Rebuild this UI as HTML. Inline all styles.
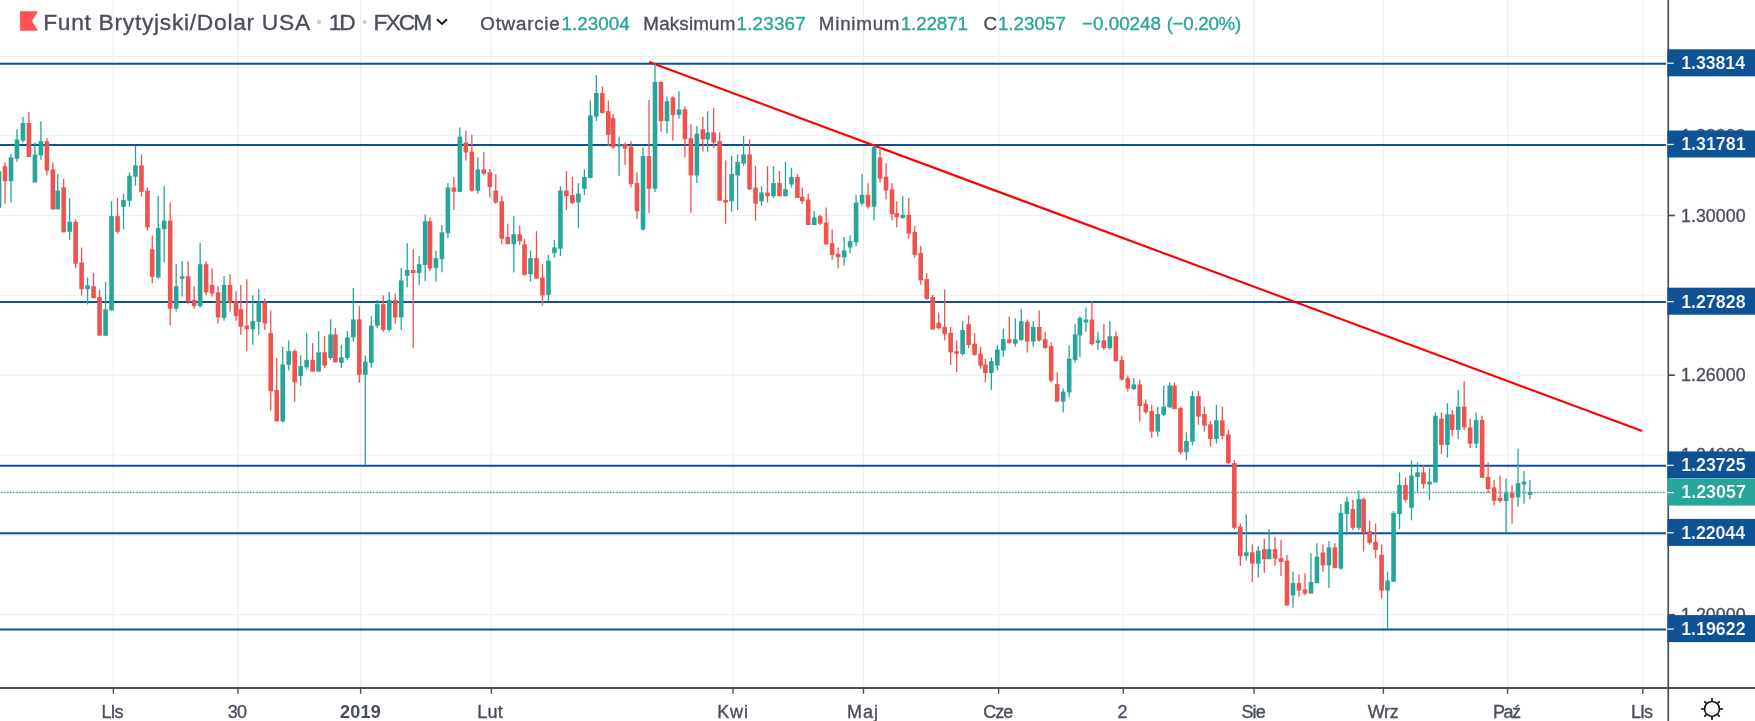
<!DOCTYPE html>
<html><head><meta charset="utf-8"><title>GBPUSD</title>
<style>
html,body{margin:0;padding:0;background:#fff;}
body{width:1755px;height:721px;position:relative;overflow:hidden;font-family:"Liberation Sans",sans-serif;}
svg text{white-space:pre;}
</style></head><body>
<svg width="1755" height="721" viewBox="0 0 1755 721" font-family="Liberation Sans, sans-serif" style="position:absolute;left:0;top:0;will-change:transform">
<g>
<g stroke="#eaf0f5" stroke-width="1.2">
<line x1="113.4" y1="0" x2="113.4" y2="687"/>
<line x1="237.9" y1="0" x2="237.9" y2="687"/>
<line x1="360.6" y1="0" x2="360.6" y2="687"/>
<line x1="491.4" y1="0" x2="491.4" y2="687"/>
<line x1="733.0" y1="0" x2="733.0" y2="687"/>
<line x1="863.5" y1="0" x2="863.5" y2="687"/>
<line x1="998.6" y1="0" x2="998.6" y2="687"/>
<line x1="1123.3" y1="0" x2="1123.3" y2="687"/>
<line x1="1254.1" y1="0" x2="1254.1" y2="687"/>
<line x1="1383.4" y1="0" x2="1383.4" y2="687"/>
<line x1="1507.6" y1="0" x2="1507.6" y2="687"/>
<line x1="1642.8" y1="0" x2="1642.8" y2="687"/>
<line x1="0" y1="614.7" x2="1666" y2="614.7"/>
<line x1="0" y1="534.8" x2="1666" y2="534.8"/>
<line x1="0" y1="455.0" x2="1666" y2="455.0"/>
<line x1="0" y1="375.1" x2="1666" y2="375.1"/>
<line x1="0" y1="295.3" x2="1666" y2="295.3"/>
<line x1="0" y1="215.4" x2="1666" y2="215.4"/>
<line x1="0" y1="135.5" x2="1666" y2="135.5"/>
<line x1="0" y1="56.4" x2="1666" y2="56.4"/>
</g>
<g stroke="#0e5296" stroke-width="2">
<line x1="0" y1="63.7" x2="1666" y2="63.7"/>
<line x1="0" y1="144.9" x2="1666" y2="144.9"/>
<line x1="0" y1="302.1" x2="1666" y2="302.1"/>
<line x1="0" y1="465.8" x2="1666" y2="465.8"/>
<line x1="0" y1="533.3" x2="1666" y2="533.3"/>
<line x1="0" y1="629.5" x2="1666" y2="629.5"/>
</g>
<line x1="-2" y1="492.5" x2="1665.4" y2="492.5" stroke="#26a69a" stroke-width="1.35" stroke-dasharray="1.75 1.25" stroke-opacity="0.9"/>
<line x1="649.1" y1="61.9" x2="1642.2" y2="431" stroke="#ff0000" stroke-width="2.15"/>
</g>
<g>
<rect x="-1.64" y="171.2" width="1.30" height="36.7" fill="#26a69a"/>
<rect x="-3.29" y="171.2" width="4.60" height="36.7" fill="#26a69a"/>
<rect x="4.35" y="162.4" width="1.30" height="41.2" fill="#ef5350"/>
<rect x="2.70" y="166.2" width="4.60" height="15.0" fill="#ef5350"/>
<rect x="10.33" y="154.2" width="1.30" height="48.2" fill="#26a69a"/>
<rect x="8.68" y="157.4" width="4.60" height="23.7" fill="#26a69a"/>
<rect x="16.32" y="129.2" width="1.30" height="32.5" fill="#26a69a"/>
<rect x="14.67" y="139.5" width="4.60" height="19.2" fill="#26a69a"/>
<rect x="22.30" y="117.0" width="1.30" height="25.5" fill="#26a69a"/>
<rect x="20.65" y="123.0" width="4.60" height="17.7" fill="#26a69a"/>
<rect x="28.29" y="112.0" width="1.30" height="44.9" fill="#ef5350"/>
<rect x="26.64" y="123.0" width="4.60" height="34.0" fill="#ef5350"/>
<rect x="34.27" y="142.4" width="1.30" height="40.0" fill="#26a69a"/>
<rect x="32.62" y="154.4" width="4.60" height="28.0" fill="#26a69a"/>
<rect x="40.26" y="121.2" width="1.30" height="38.7" fill="#26a69a"/>
<rect x="38.61" y="141.2" width="4.60" height="14.2" fill="#26a69a"/>
<rect x="46.24" y="138.2" width="1.30" height="37.2" fill="#ef5350"/>
<rect x="44.59" y="141.2" width="4.60" height="29.5" fill="#ef5350"/>
<rect x="52.23" y="162.4" width="1.30" height="46.9" fill="#ef5350"/>
<rect x="50.58" y="169.4" width="4.60" height="40.0" fill="#ef5350"/>
<rect x="57.02" y="174.2" width="1.30" height="35.2" fill="#26a69a"/>
<rect x="55.37" y="190.6" width="4.60" height="18.7" fill="#26a69a"/>
<rect x="63.00" y="178.7" width="1.30" height="53.7" fill="#ef5350"/>
<rect x="61.35" y="187.4" width="4.60" height="44.9" fill="#ef5350"/>
<rect x="68.99" y="198.1" width="1.30" height="41.7" fill="#26a69a"/>
<rect x="67.34" y="221.8" width="4.60" height="10.0" fill="#26a69a"/>
<rect x="74.97" y="219.4" width="1.30" height="48.9" fill="#ef5350"/>
<rect x="73.33" y="221.8" width="4.60" height="41.9" fill="#ef5350"/>
<rect x="80.96" y="247.5" width="1.30" height="47.9" fill="#ef5350"/>
<rect x="79.31" y="262.5" width="4.60" height="26.7" fill="#ef5350"/>
<rect x="86.94" y="277.5" width="1.30" height="27.0" fill="#26a69a"/>
<rect x="85.30" y="285.4" width="4.60" height="3.7" fill="#26a69a"/>
<rect x="92.93" y="273.0" width="1.30" height="25.2" fill="#ef5350"/>
<rect x="91.28" y="286.2" width="4.60" height="12.0" fill="#ef5350"/>
<rect x="98.91" y="289.4" width="1.30" height="46.2" fill="#ef5350"/>
<rect x="97.27" y="296.9" width="4.60" height="38.7" fill="#ef5350"/>
<rect x="104.90" y="281.9" width="1.30" height="53.7" fill="#26a69a"/>
<rect x="103.25" y="309.2" width="4.60" height="26.5" fill="#26a69a"/>
<rect x="110.88" y="201.1" width="1.30" height="109.3" fill="#26a69a"/>
<rect x="109.23" y="216.1" width="4.60" height="94.3" fill="#26a69a"/>
<rect x="116.87" y="198.1" width="1.30" height="35.5" fill="#ef5350"/>
<rect x="115.22" y="216.1" width="4.60" height="15.7" fill="#ef5350"/>
<rect x="122.85" y="193.6" width="1.30" height="35.7" fill="#26a69a"/>
<rect x="121.20" y="199.9" width="4.60" height="7.0" fill="#26a69a"/>
<rect x="128.84" y="172.4" width="1.30" height="34.2" fill="#26a69a"/>
<rect x="127.19" y="175.7" width="4.60" height="25.0" fill="#26a69a"/>
<rect x="134.83" y="145.7" width="1.30" height="40.0" fill="#26a69a"/>
<rect x="133.18" y="165.4" width="4.60" height="11.2" fill="#26a69a"/>
<rect x="140.81" y="154.4" width="1.30" height="42.2" fill="#ef5350"/>
<rect x="139.16" y="165.4" width="4.60" height="26.5" fill="#ef5350"/>
<rect x="146.80" y="187.4" width="1.30" height="43.2" fill="#ef5350"/>
<rect x="145.15" y="190.6" width="4.60" height="36.7" fill="#ef5350"/>
<rect x="151.59" y="235.6" width="1.30" height="47.6" fill="#ef5350"/>
<rect x="149.94" y="249.2" width="4.60" height="27.7" fill="#ef5350"/>
<rect x="157.57" y="196.1" width="1.30" height="82.6" fill="#26a69a"/>
<rect x="155.92" y="228.1" width="4.60" height="49.4" fill="#26a69a"/>
<rect x="163.56" y="186.1" width="1.30" height="76.3" fill="#26a69a"/>
<rect x="161.91" y="220.6" width="4.60" height="8.7" fill="#26a69a"/>
<rect x="169.54" y="202.4" width="1.30" height="123.0" fill="#ef5350"/>
<rect x="167.89" y="220.6" width="4.60" height="88.1" fill="#ef5350"/>
<rect x="175.53" y="264.2" width="1.30" height="47.4" fill="#26a69a"/>
<rect x="173.88" y="286.2" width="4.60" height="22.5" fill="#26a69a"/>
<rect x="181.51" y="261.2" width="1.30" height="35.5" fill="#26a69a"/>
<rect x="179.86" y="276.2" width="4.60" height="2.5" fill="#26a69a"/>
<rect x="187.50" y="261.2" width="1.30" height="43.2" fill="#ef5350"/>
<rect x="185.85" y="276.2" width="4.60" height="25.5" fill="#ef5350"/>
<rect x="193.48" y="286.2" width="1.30" height="22.5" fill="#ef5350"/>
<rect x="191.83" y="299.9" width="4.60" height="6.2" fill="#ef5350"/>
<rect x="199.47" y="243.2" width="1.30" height="64.2" fill="#26a69a"/>
<rect x="197.82" y="264.2" width="4.60" height="41.9" fill="#26a69a"/>
<rect x="205.45" y="261.2" width="1.30" height="34.2" fill="#ef5350"/>
<rect x="203.80" y="264.2" width="4.60" height="28.2" fill="#ef5350"/>
<rect x="211.44" y="268.2" width="1.30" height="28.5" fill="#ef5350"/>
<rect x="209.79" y="284.9" width="4.60" height="8.7" fill="#ef5350"/>
<rect x="217.42" y="286.2" width="1.30" height="37.5" fill="#ef5350"/>
<rect x="215.77" y="292.4" width="4.60" height="25.0" fill="#ef5350"/>
<rect x="223.41" y="276.2" width="1.30" height="44.4" fill="#26a69a"/>
<rect x="221.76" y="284.9" width="4.60" height="33.0" fill="#26a69a"/>
<rect x="229.39" y="274.2" width="1.30" height="37.5" fill="#ef5350"/>
<rect x="227.74" y="284.9" width="4.60" height="17.8" fill="#ef5350"/>
<rect x="235.38" y="291.2" width="1.30" height="29.5" fill="#ef5350"/>
<rect x="233.73" y="301.2" width="4.60" height="15.0" fill="#ef5350"/>
<rect x="240.17" y="284.9" width="1.30" height="49.9" fill="#ef5350"/>
<rect x="238.52" y="309.2" width="4.60" height="17.5" fill="#ef5350"/>
<rect x="246.15" y="279.2" width="1.30" height="71.4" fill="#ef5350"/>
<rect x="244.50" y="325.6" width="4.60" height="3.7" fill="#ef5350"/>
<rect x="252.14" y="295.4" width="1.30" height="49.4" fill="#26a69a"/>
<rect x="250.49" y="321.1" width="4.60" height="8.2" fill="#26a69a"/>
<rect x="258.12" y="289.2" width="1.30" height="45.2" fill="#26a69a"/>
<rect x="256.47" y="302.4" width="4.60" height="19.5" fill="#26a69a"/>
<rect x="264.11" y="298.2" width="1.30" height="31.7" fill="#ef5350"/>
<rect x="262.46" y="302.4" width="4.60" height="21.2" fill="#ef5350"/>
<rect x="270.09" y="310.4" width="1.30" height="100.3" fill="#ef5350"/>
<rect x="268.44" y="333.1" width="4.60" height="58.1" fill="#ef5350"/>
<rect x="276.08" y="358.1" width="1.30" height="63.3" fill="#ef5350"/>
<rect x="274.43" y="390.0" width="4.60" height="31.3" fill="#ef5350"/>
<rect x="282.06" y="346.6" width="1.30" height="76.0" fill="#26a69a"/>
<rect x="280.41" y="364.3" width="4.60" height="57.0" fill="#26a69a"/>
<rect x="288.05" y="340.4" width="1.30" height="30.0" fill="#26a69a"/>
<rect x="286.40" y="351.1" width="4.60" height="13.7" fill="#26a69a"/>
<rect x="294.03" y="349.1" width="1.30" height="52.6" fill="#ef5350"/>
<rect x="292.38" y="351.1" width="4.60" height="31.2" fill="#ef5350"/>
<rect x="300.02" y="355.4" width="1.30" height="30.2" fill="#26a69a"/>
<rect x="298.37" y="366.1" width="4.60" height="10.0" fill="#26a69a"/>
<rect x="306.00" y="333.1" width="1.30" height="36.7" fill="#26a69a"/>
<rect x="304.35" y="359.9" width="4.60" height="7.5" fill="#26a69a"/>
<rect x="311.99" y="343.1" width="1.30" height="28.5" fill="#ef5350"/>
<rect x="310.34" y="359.9" width="4.60" height="11.7" fill="#ef5350"/>
<rect x="317.97" y="331.1" width="1.30" height="40.4" fill="#26a69a"/>
<rect x="316.32" y="352.4" width="4.60" height="19.2" fill="#26a69a"/>
<rect x="323.96" y="336.1" width="1.30" height="31.7" fill="#ef5350"/>
<rect x="322.31" y="352.4" width="4.60" height="13.2" fill="#ef5350"/>
<rect x="329.94" y="319.4" width="1.30" height="40.4" fill="#26a69a"/>
<rect x="328.29" y="334.4" width="4.60" height="23.7" fill="#26a69a"/>
<rect x="334.73" y="328.1" width="1.30" height="34.2" fill="#ef5350"/>
<rect x="333.08" y="334.4" width="4.60" height="28.0" fill="#ef5350"/>
<rect x="340.72" y="344.9" width="1.30" height="23.0" fill="#26a69a"/>
<rect x="339.07" y="357.4" width="4.60" height="5.5" fill="#26a69a"/>
<rect x="346.70" y="331.1" width="1.30" height="28.7" fill="#26a69a"/>
<rect x="345.05" y="337.4" width="4.60" height="20.7" fill="#26a69a"/>
<rect x="352.69" y="287.9" width="1.30" height="53.9" fill="#26a69a"/>
<rect x="351.04" y="319.4" width="4.60" height="18.0" fill="#26a69a"/>
<rect x="358.67" y="306.2" width="1.30" height="76.7" fill="#ef5350"/>
<rect x="357.02" y="319.4" width="4.60" height="55.4" fill="#ef5350"/>
<rect x="364.66" y="355.4" width="1.30" height="109.9" fill="#26a69a"/>
<rect x="363.01" y="361.6" width="4.60" height="13.2" fill="#26a69a"/>
<rect x="370.64" y="316.2" width="1.30" height="51.2" fill="#26a69a"/>
<rect x="368.99" y="325.6" width="4.60" height="37.2" fill="#26a69a"/>
<rect x="376.63" y="299.9" width="1.30" height="28.2" fill="#26a69a"/>
<rect x="374.98" y="304.2" width="4.60" height="21.5" fill="#26a69a"/>
<rect x="382.61" y="295.4" width="1.30" height="36.2" fill="#ef5350"/>
<rect x="380.96" y="304.2" width="4.60" height="25.7" fill="#ef5350"/>
<rect x="388.60" y="291.9" width="1.30" height="39.7" fill="#26a69a"/>
<rect x="386.95" y="299.9" width="4.60" height="30.0" fill="#26a69a"/>
<rect x="394.58" y="293.7" width="1.30" height="30.0" fill="#ef5350"/>
<rect x="392.93" y="299.9" width="4.60" height="17.5" fill="#ef5350"/>
<rect x="400.57" y="268.2" width="1.30" height="61.7" fill="#26a69a"/>
<rect x="398.92" y="280.4" width="4.60" height="37.0" fill="#26a69a"/>
<rect x="406.55" y="243.2" width="1.30" height="44.2" fill="#26a69a"/>
<rect x="404.90" y="270.0" width="4.60" height="5.7" fill="#26a69a"/>
<rect x="412.54" y="249.2" width="1.30" height="98.6" fill="#ef5350"/>
<rect x="410.89" y="270.0" width="4.60" height="3.0" fill="#ef5350"/>
<rect x="418.52" y="256.2" width="1.30" height="28.7" fill="#26a69a"/>
<rect x="416.87" y="264.2" width="4.60" height="8.7" fill="#26a69a"/>
<rect x="424.51" y="214.5" width="1.30" height="66.7" fill="#26a69a"/>
<rect x="422.86" y="221.2" width="4.60" height="43.7" fill="#26a69a"/>
<rect x="429.30" y="217.5" width="1.30" height="53.7" fill="#ef5350"/>
<rect x="427.65" y="221.2" width="4.60" height="47.4" fill="#ef5350"/>
<rect x="435.28" y="250.7" width="1.30" height="31.0" fill="#26a69a"/>
<rect x="433.63" y="258.2" width="4.60" height="9.7" fill="#26a69a"/>
<rect x="441.27" y="224.9" width="1.30" height="47.4" fill="#26a69a"/>
<rect x="439.62" y="232.4" width="4.60" height="26.7" fill="#26a69a"/>
<rect x="447.25" y="183.2" width="1.30" height="54.9" fill="#26a69a"/>
<rect x="445.60" y="187.5" width="4.60" height="45.7" fill="#26a69a"/>
<rect x="453.24" y="176.9" width="1.30" height="33.1" fill="#ef5350"/>
<rect x="451.59" y="187.5" width="4.60" height="4.2" fill="#ef5350"/>
<rect x="459.22" y="127.4" width="1.30" height="64.3" fill="#26a69a"/>
<rect x="457.57" y="136.7" width="4.60" height="55.1" fill="#26a69a"/>
<rect x="465.21" y="130.7" width="1.30" height="30.0" fill="#ef5350"/>
<rect x="463.56" y="142.4" width="4.60" height="10.0" fill="#ef5350"/>
<rect x="471.19" y="134.9" width="1.30" height="56.8" fill="#ef5350"/>
<rect x="469.54" y="151.6" width="4.60" height="39.1" fill="#ef5350"/>
<rect x="477.18" y="157.4" width="1.30" height="36.4" fill="#26a69a"/>
<rect x="475.53" y="169.4" width="4.60" height="21.4" fill="#26a69a"/>
<rect x="483.16" y="151.6" width="1.30" height="23.7" fill="#ef5350"/>
<rect x="481.51" y="169.4" width="4.60" height="4.2" fill="#ef5350"/>
<rect x="489.15" y="169.1" width="1.30" height="28.4" fill="#ef5350"/>
<rect x="487.50" y="172.4" width="4.60" height="14.6" fill="#ef5350"/>
<rect x="495.13" y="174.1" width="1.30" height="29.6" fill="#ef5350"/>
<rect x="493.48" y="190.5" width="4.60" height="12.0" fill="#ef5350"/>
<rect x="501.12" y="195.5" width="1.30" height="48.9" fill="#ef5350"/>
<rect x="499.47" y="201.2" width="4.60" height="37.5" fill="#ef5350"/>
<rect x="507.10" y="223.7" width="1.30" height="20.5" fill="#ef5350"/>
<rect x="505.45" y="236.9" width="4.60" height="7.2" fill="#ef5350"/>
<rect x="513.09" y="216.2" width="1.30" height="56.2" fill="#26a69a"/>
<rect x="511.44" y="234.2" width="4.60" height="10.0" fill="#26a69a"/>
<rect x="519.07" y="225.4" width="1.30" height="20.0" fill="#ef5350"/>
<rect x="517.42" y="234.2" width="4.60" height="7.0" fill="#ef5350"/>
<rect x="523.86" y="238.7" width="1.30" height="37.0" fill="#ef5350"/>
<rect x="522.21" y="244.2" width="4.60" height="30.7" fill="#ef5350"/>
<rect x="529.85" y="250.7" width="1.30" height="31.0" fill="#26a69a"/>
<rect x="528.20" y="258.2" width="4.60" height="16.0" fill="#26a69a"/>
<rect x="535.83" y="231.2" width="1.30" height="47.4" fill="#ef5350"/>
<rect x="534.18" y="258.2" width="4.60" height="20.5" fill="#ef5350"/>
<rect x="541.82" y="264.1" width="1.30" height="41.4" fill="#ef5350"/>
<rect x="540.17" y="277.4" width="4.60" height="18.0" fill="#ef5350"/>
<rect x="547.80" y="254.9" width="1.30" height="46.2" fill="#26a69a"/>
<rect x="546.15" y="260.6" width="4.60" height="34.2" fill="#26a69a"/>
<rect x="553.79" y="239.9" width="1.30" height="17.5" fill="#26a69a"/>
<rect x="552.14" y="247.4" width="4.60" height="5.7" fill="#26a69a"/>
<rect x="559.77" y="186.2" width="1.30" height="69.9" fill="#26a69a"/>
<rect x="558.12" y="190.5" width="4.60" height="58.2" fill="#26a69a"/>
<rect x="565.76" y="171.1" width="1.30" height="38.9" fill="#ef5350"/>
<rect x="564.11" y="190.5" width="4.60" height="5.7" fill="#ef5350"/>
<rect x="571.74" y="176.9" width="1.30" height="27.4" fill="#ef5350"/>
<rect x="570.09" y="195.0" width="4.60" height="8.0" fill="#ef5350"/>
<rect x="577.73" y="183.2" width="1.30" height="44.7" fill="#26a69a"/>
<rect x="576.08" y="193.7" width="4.60" height="8.7" fill="#26a69a"/>
<rect x="583.71" y="169.4" width="1.30" height="25.6" fill="#26a69a"/>
<rect x="582.06" y="176.9" width="4.60" height="11.9" fill="#26a69a"/>
<rect x="589.70" y="100.4" width="1.30" height="77.7" fill="#26a69a"/>
<rect x="588.05" y="115.4" width="4.60" height="62.7" fill="#26a69a"/>
<rect x="595.68" y="75.0" width="1.30" height="46.2" fill="#26a69a"/>
<rect x="594.03" y="93.0" width="4.60" height="23.7" fill="#26a69a"/>
<rect x="601.67" y="86.7" width="1.30" height="27.0" fill="#ef5350"/>
<rect x="600.02" y="93.0" width="4.60" height="20.0" fill="#ef5350"/>
<rect x="607.65" y="100.4" width="1.30" height="45.7" fill="#ef5350"/>
<rect x="606.00" y="111.2" width="4.60" height="23.7" fill="#ef5350"/>
<rect x="612.44" y="113.7" width="1.30" height="35.0" fill="#ef5350"/>
<rect x="610.79" y="118.2" width="4.60" height="29.2" fill="#ef5350"/>
<rect x="618.43" y="136.7" width="1.30" height="39.0" fill="#26a69a"/>
<rect x="616.78" y="144.1" width="4.60" height="2.5" fill="#26a69a"/>
<rect x="624.41" y="142.4" width="1.30" height="22.5" fill="#ef5350"/>
<rect x="622.76" y="144.1" width="4.60" height="4.5" fill="#ef5350"/>
<rect x="630.40" y="141.1" width="1.30" height="46.3" fill="#ef5350"/>
<rect x="628.75" y="146.6" width="4.60" height="37.6" fill="#ef5350"/>
<rect x="636.38" y="172.4" width="1.30" height="46.8" fill="#ef5350"/>
<rect x="634.73" y="183.0" width="4.60" height="28.2" fill="#ef5350"/>
<rect x="642.37" y="147.4" width="1.30" height="83.3" fill="#26a69a"/>
<rect x="640.72" y="156.1" width="4.60" height="73.3" fill="#26a69a"/>
<rect x="648.35" y="100.0" width="1.30" height="113.0" fill="#ef5350"/>
<rect x="646.70" y="156.1" width="4.60" height="32.6" fill="#ef5350"/>
<rect x="654.34" y="62.5" width="1.30" height="129.5" fill="#26a69a"/>
<rect x="652.69" y="82.0" width="4.60" height="106.8" fill="#26a69a"/>
<rect x="660.32" y="81.2" width="1.30" height="50.4" fill="#ef5350"/>
<rect x="658.67" y="82.0" width="4.60" height="39.2" fill="#ef5350"/>
<rect x="666.31" y="96.2" width="1.30" height="37.5" fill="#26a69a"/>
<rect x="664.66" y="101.2" width="4.60" height="20.0" fill="#26a69a"/>
<rect x="672.29" y="96.2" width="1.30" height="44.4" fill="#ef5350"/>
<rect x="670.64" y="97.5" width="4.60" height="17.5" fill="#ef5350"/>
<rect x="678.28" y="91.2" width="1.30" height="27.5" fill="#26a69a"/>
<rect x="676.63" y="109.4" width="4.60" height="5.5" fill="#26a69a"/>
<rect x="684.26" y="106.2" width="1.30" height="51.2" fill="#ef5350"/>
<rect x="682.61" y="109.4" width="4.60" height="29.7" fill="#ef5350"/>
<rect x="690.25" y="124.4" width="1.30" height="88.5" fill="#ef5350"/>
<rect x="688.60" y="138.2" width="4.60" height="37.2" fill="#ef5350"/>
<rect x="696.23" y="126.2" width="1.30" height="56.8" fill="#26a69a"/>
<rect x="694.58" y="133.7" width="4.60" height="41.7" fill="#26a69a"/>
<rect x="702.22" y="116.9" width="1.30" height="34.7" fill="#ef5350"/>
<rect x="700.57" y="129.4" width="4.60" height="10.0" fill="#ef5350"/>
<rect x="707.01" y="111.2" width="1.30" height="40.4" fill="#26a69a"/>
<rect x="705.36" y="132.4" width="4.60" height="7.0" fill="#26a69a"/>
<rect x="712.99" y="107.9" width="1.30" height="40.0" fill="#ef5350"/>
<rect x="711.34" y="132.4" width="4.60" height="10.0" fill="#ef5350"/>
<rect x="718.98" y="132.4" width="1.30" height="68.3" fill="#ef5350"/>
<rect x="717.33" y="141.1" width="4.60" height="59.6" fill="#ef5350"/>
<rect x="724.96" y="160.4" width="1.30" height="63.3" fill="#ef5350"/>
<rect x="723.31" y="200.0" width="4.60" height="2.5" fill="#ef5350"/>
<rect x="730.95" y="156.1" width="1.30" height="55.6" fill="#26a69a"/>
<rect x="729.30" y="174.1" width="4.60" height="27.1" fill="#26a69a"/>
<rect x="736.93" y="154.4" width="1.30" height="55.6" fill="#26a69a"/>
<rect x="735.28" y="161.9" width="4.60" height="13.5" fill="#26a69a"/>
<rect x="742.92" y="136.2" width="1.30" height="30.0" fill="#26a69a"/>
<rect x="741.27" y="154.4" width="4.60" height="9.2" fill="#26a69a"/>
<rect x="748.90" y="139.4" width="1.30" height="50.6" fill="#ef5350"/>
<rect x="747.25" y="154.4" width="4.60" height="34.9" fill="#ef5350"/>
<rect x="754.89" y="166.1" width="1.30" height="54.6" fill="#ef5350"/>
<rect x="753.24" y="187.5" width="4.60" height="16.2" fill="#ef5350"/>
<rect x="760.87" y="186.2" width="1.30" height="19.5" fill="#26a69a"/>
<rect x="759.22" y="192.5" width="4.60" height="8.7" fill="#26a69a"/>
<rect x="766.86" y="166.1" width="1.30" height="36.4" fill="#ef5350"/>
<rect x="765.21" y="192.5" width="4.60" height="3.7" fill="#ef5350"/>
<rect x="772.84" y="166.1" width="1.30" height="31.9" fill="#26a69a"/>
<rect x="771.19" y="183.0" width="4.60" height="13.2" fill="#26a69a"/>
<rect x="778.83" y="171.1" width="1.30" height="25.1" fill="#ef5350"/>
<rect x="777.18" y="183.0" width="4.60" height="13.2" fill="#ef5350"/>
<rect x="784.81" y="161.9" width="1.30" height="34.4" fill="#26a69a"/>
<rect x="783.16" y="189.2" width="4.60" height="7.0" fill="#26a69a"/>
<rect x="790.80" y="167.9" width="1.30" height="19.6" fill="#26a69a"/>
<rect x="789.15" y="176.9" width="4.60" height="7.6" fill="#26a69a"/>
<rect x="796.78" y="174.1" width="1.30" height="23.9" fill="#ef5350"/>
<rect x="795.13" y="176.9" width="4.60" height="21.1" fill="#ef5350"/>
<rect x="801.57" y="187.5" width="1.30" height="16.2" fill="#ef5350"/>
<rect x="799.92" y="196.7" width="4.60" height="4.5" fill="#ef5350"/>
<rect x="807.56" y="193.7" width="1.30" height="31.2" fill="#ef5350"/>
<rect x="805.91" y="199.5" width="4.60" height="25.5" fill="#ef5350"/>
<rect x="813.54" y="211.2" width="1.30" height="13.7" fill="#26a69a"/>
<rect x="811.89" y="217.5" width="4.60" height="7.5" fill="#26a69a"/>
<rect x="819.53" y="215.0" width="1.30" height="10.0" fill="#ef5350"/>
<rect x="817.88" y="216.2" width="4.60" height="7.5" fill="#ef5350"/>
<rect x="825.51" y="207.5" width="1.30" height="37.0" fill="#ef5350"/>
<rect x="823.86" y="222.4" width="4.60" height="22.0" fill="#ef5350"/>
<rect x="831.50" y="229.4" width="1.30" height="30.5" fill="#ef5350"/>
<rect x="829.85" y="242.9" width="4.60" height="12.0" fill="#ef5350"/>
<rect x="837.48" y="247.4" width="1.30" height="21.2" fill="#ef5350"/>
<rect x="835.83" y="253.7" width="4.60" height="3.7" fill="#ef5350"/>
<rect x="843.47" y="236.9" width="1.30" height="28.7" fill="#26a69a"/>
<rect x="841.82" y="250.4" width="4.60" height="7.0" fill="#26a69a"/>
<rect x="849.45" y="235.4" width="1.30" height="17.7" fill="#26a69a"/>
<rect x="847.80" y="241.2" width="4.60" height="6.2" fill="#26a69a"/>
<rect x="855.44" y="195.0" width="1.30" height="51.2" fill="#26a69a"/>
<rect x="853.79" y="202.5" width="4.60" height="40.0" fill="#26a69a"/>
<rect x="861.42" y="173.7" width="1.30" height="31.7" fill="#26a69a"/>
<rect x="859.77" y="194.9" width="4.60" height="8.7" fill="#26a69a"/>
<rect x="867.41" y="183.2" width="1.30" height="25.5" fill="#ef5350"/>
<rect x="865.76" y="194.9" width="4.60" height="11.7" fill="#ef5350"/>
<rect x="873.39" y="144.5" width="1.30" height="75.9" fill="#26a69a"/>
<rect x="871.74" y="147.0" width="4.60" height="59.7" fill="#26a69a"/>
<rect x="879.38" y="147.0" width="1.30" height="35.5" fill="#ef5350"/>
<rect x="877.73" y="157.5" width="4.60" height="21.2" fill="#ef5350"/>
<rect x="885.36" y="163.2" width="1.30" height="36.2" fill="#ef5350"/>
<rect x="883.71" y="176.7" width="4.60" height="13.7" fill="#ef5350"/>
<rect x="891.35" y="183.2" width="1.30" height="37.2" fill="#ef5350"/>
<rect x="889.70" y="189.2" width="4.60" height="25.0" fill="#ef5350"/>
<rect x="896.14" y="201.2" width="1.30" height="26.2" fill="#ef5350"/>
<rect x="894.49" y="213.1" width="4.60" height="4.2" fill="#ef5350"/>
<rect x="902.12" y="196.2" width="1.30" height="22.5" fill="#26a69a"/>
<rect x="900.47" y="214.9" width="4.60" height="3.0" fill="#26a69a"/>
<rect x="908.11" y="197.9" width="1.30" height="40.7" fill="#ef5350"/>
<rect x="906.46" y="214.9" width="4.60" height="18.7" fill="#ef5350"/>
<rect x="914.09" y="226.1" width="1.30" height="31.7" fill="#ef5350"/>
<rect x="912.44" y="231.9" width="4.60" height="23.0" fill="#ef5350"/>
<rect x="920.08" y="246.1" width="1.30" height="38.7" fill="#ef5350"/>
<rect x="918.43" y="252.8" width="4.60" height="27.5" fill="#ef5350"/>
<rect x="926.06" y="273.1" width="1.30" height="26.9" fill="#ef5350"/>
<rect x="924.41" y="279.1" width="4.60" height="19.7" fill="#ef5350"/>
<rect x="932.05" y="295.0" width="1.30" height="34.5" fill="#ef5350"/>
<rect x="930.40" y="297.0" width="4.60" height="32.5" fill="#ef5350"/>
<rect x="938.03" y="312.5" width="1.30" height="17.0" fill="#ef5350"/>
<rect x="936.38" y="322.9" width="4.60" height="5.2" fill="#ef5350"/>
<rect x="944.02" y="289.5" width="1.30" height="50.9" fill="#ef5350"/>
<rect x="942.37" y="326.9" width="4.60" height="7.2" fill="#ef5350"/>
<rect x="950.00" y="326.9" width="1.30" height="38.0" fill="#ef5350"/>
<rect x="948.35" y="332.9" width="4.60" height="19.5" fill="#ef5350"/>
<rect x="955.99" y="340.4" width="1.30" height="31.5" fill="#ef5350"/>
<rect x="954.34" y="351.2" width="4.60" height="2.5" fill="#ef5350"/>
<rect x="961.97" y="321.2" width="1.30" height="34.5" fill="#26a69a"/>
<rect x="960.32" y="329.9" width="4.60" height="24.2" fill="#26a69a"/>
<rect x="967.96" y="315.5" width="1.30" height="32.5" fill="#ef5350"/>
<rect x="966.31" y="324.2" width="4.60" height="20.7" fill="#ef5350"/>
<rect x="973.94" y="333.2" width="1.30" height="22.5" fill="#ef5350"/>
<rect x="972.29" y="343.7" width="4.60" height="11.2" fill="#ef5350"/>
<rect x="979.93" y="346.7" width="1.30" height="22.0" fill="#ef5350"/>
<rect x="978.28" y="353.7" width="4.60" height="12.0" fill="#ef5350"/>
<rect x="984.72" y="358.7" width="1.30" height="23.7" fill="#ef5350"/>
<rect x="983.07" y="364.4" width="4.60" height="8.7" fill="#ef5350"/>
<rect x="990.70" y="357.4" width="1.30" height="32.5" fill="#26a69a"/>
<rect x="989.05" y="361.1" width="4.60" height="12.0" fill="#26a69a"/>
<rect x="996.69" y="345.4" width="1.30" height="25.0" fill="#26a69a"/>
<rect x="995.04" y="349.4" width="4.60" height="16.2" fill="#26a69a"/>
<rect x="1002.67" y="328.7" width="1.30" height="28.2" fill="#26a69a"/>
<rect x="1001.02" y="339.2" width="4.60" height="11.5" fill="#26a69a"/>
<rect x="1008.66" y="316.7" width="1.30" height="27.0" fill="#ef5350"/>
<rect x="1007.01" y="339.2" width="4.60" height="3.7" fill="#ef5350"/>
<rect x="1014.64" y="318.2" width="1.30" height="28.5" fill="#26a69a"/>
<rect x="1012.99" y="339.2" width="4.60" height="4.5" fill="#26a69a"/>
<rect x="1020.63" y="309.2" width="1.30" height="32.0" fill="#26a69a"/>
<rect x="1018.98" y="321.2" width="4.60" height="18.7" fill="#26a69a"/>
<rect x="1026.61" y="319.5" width="1.30" height="33.0" fill="#ef5350"/>
<rect x="1024.96" y="321.9" width="4.60" height="19.7" fill="#ef5350"/>
<rect x="1032.60" y="321.2" width="1.30" height="25.5" fill="#26a69a"/>
<rect x="1030.95" y="326.9" width="4.60" height="14.7" fill="#26a69a"/>
<rect x="1038.58" y="310.5" width="1.30" height="31.2" fill="#ef5350"/>
<rect x="1036.93" y="326.9" width="4.60" height="13.5" fill="#ef5350"/>
<rect x="1044.57" y="331.7" width="1.30" height="17.7" fill="#ef5350"/>
<rect x="1042.92" y="339.2" width="4.60" height="8.7" fill="#ef5350"/>
<rect x="1050.55" y="342.4" width="1.30" height="40.0" fill="#ef5350"/>
<rect x="1048.90" y="346.2" width="4.60" height="34.5" fill="#ef5350"/>
<rect x="1056.54" y="372.4" width="1.30" height="29.2" fill="#ef5350"/>
<rect x="1054.89" y="384.1" width="4.60" height="17.5" fill="#ef5350"/>
<rect x="1062.52" y="388.6" width="1.30" height="23.7" fill="#26a69a"/>
<rect x="1060.87" y="391.6" width="4.60" height="10.0" fill="#26a69a"/>
<rect x="1068.51" y="345.4" width="1.30" height="51.9" fill="#26a69a"/>
<rect x="1066.86" y="358.7" width="4.60" height="33.7" fill="#26a69a"/>
<rect x="1074.49" y="324.2" width="1.30" height="38.7" fill="#26a69a"/>
<rect x="1072.84" y="334.4" width="4.60" height="25.5" fill="#26a69a"/>
<rect x="1079.28" y="316.2" width="1.30" height="40.7" fill="#26a69a"/>
<rect x="1077.63" y="318.0" width="4.60" height="17.5" fill="#26a69a"/>
<rect x="1085.27" y="307.5" width="1.30" height="24.2" fill="#26a69a"/>
<rect x="1083.62" y="319.5" width="4.60" height="3.0" fill="#26a69a"/>
<rect x="1091.25" y="301.7" width="1.30" height="43.7" fill="#ef5350"/>
<rect x="1089.60" y="319.5" width="4.60" height="24.7" fill="#ef5350"/>
<rect x="1097.24" y="331.7" width="1.30" height="18.2" fill="#26a69a"/>
<rect x="1095.59" y="340.4" width="4.60" height="2.5" fill="#26a69a"/>
<rect x="1103.22" y="324.2" width="1.30" height="25.7" fill="#ef5350"/>
<rect x="1101.57" y="340.4" width="4.60" height="7.7" fill="#ef5350"/>
<rect x="1109.21" y="321.2" width="1.30" height="28.7" fill="#26a69a"/>
<rect x="1107.56" y="336.2" width="4.60" height="12.0" fill="#26a69a"/>
<rect x="1115.19" y="331.7" width="1.30" height="29.5" fill="#ef5350"/>
<rect x="1113.54" y="336.2" width="4.60" height="25.0" fill="#ef5350"/>
<rect x="1121.17" y="355.7" width="1.30" height="25.0" fill="#ef5350"/>
<rect x="1119.53" y="359.9" width="4.60" height="19.5" fill="#ef5350"/>
<rect x="1127.16" y="375.4" width="1.30" height="16.2" fill="#ef5350"/>
<rect x="1125.51" y="378.1" width="4.60" height="10.5" fill="#ef5350"/>
<rect x="1133.14" y="378.1" width="1.30" height="12.2" fill="#26a69a"/>
<rect x="1131.49" y="384.4" width="4.60" height="4.7" fill="#26a69a"/>
<rect x="1139.13" y="379.4" width="1.30" height="42.2" fill="#ef5350"/>
<rect x="1137.48" y="384.4" width="4.60" height="21.7" fill="#ef5350"/>
<rect x="1145.11" y="399.4" width="1.30" height="14.7" fill="#ef5350"/>
<rect x="1143.46" y="403.6" width="4.60" height="8.7" fill="#ef5350"/>
<rect x="1151.10" y="404.8" width="1.30" height="33.0" fill="#ef5350"/>
<rect x="1149.45" y="411.1" width="4.60" height="20.5" fill="#ef5350"/>
<rect x="1157.08" y="406.6" width="1.30" height="30.0" fill="#26a69a"/>
<rect x="1155.43" y="414.1" width="4.60" height="17.5" fill="#26a69a"/>
<rect x="1163.07" y="385.6" width="1.30" height="30.5" fill="#26a69a"/>
<rect x="1161.42" y="406.6" width="4.60" height="8.2" fill="#26a69a"/>
<rect x="1169.05" y="382.4" width="1.30" height="25.7" fill="#26a69a"/>
<rect x="1167.40" y="385.6" width="4.60" height="21.7" fill="#26a69a"/>
<rect x="1173.84" y="382.4" width="1.30" height="26.7" fill="#ef5350"/>
<rect x="1172.19" y="385.6" width="4.60" height="23.5" fill="#ef5350"/>
<rect x="1179.83" y="406.6" width="1.30" height="48.2" fill="#ef5350"/>
<rect x="1178.18" y="408.1" width="4.60" height="44.2" fill="#ef5350"/>
<rect x="1185.81" y="432.3" width="1.30" height="28.1" fill="#26a69a"/>
<rect x="1184.16" y="441.0" width="4.60" height="11.2" fill="#26a69a"/>
<rect x="1191.80" y="391.1" width="1.30" height="54.2" fill="#26a69a"/>
<rect x="1190.15" y="396.1" width="4.60" height="45.7" fill="#26a69a"/>
<rect x="1197.78" y="391.1" width="1.30" height="33.7" fill="#ef5350"/>
<rect x="1196.13" y="396.1" width="4.60" height="20.5" fill="#ef5350"/>
<rect x="1203.77" y="406.6" width="1.30" height="25.0" fill="#ef5350"/>
<rect x="1202.12" y="414.1" width="4.60" height="11.5" fill="#ef5350"/>
<rect x="1209.75" y="421.1" width="1.30" height="25.7" fill="#ef5350"/>
<rect x="1208.10" y="424.3" width="4.60" height="14.7" fill="#ef5350"/>
<rect x="1215.74" y="404.8" width="1.30" height="38.7" fill="#26a69a"/>
<rect x="1214.09" y="420.3" width="4.60" height="18.7" fill="#26a69a"/>
<rect x="1221.72" y="406.6" width="1.30" height="32.5" fill="#ef5350"/>
<rect x="1220.07" y="420.3" width="4.60" height="15.7" fill="#ef5350"/>
<rect x="1227.71" y="429.9" width="1.30" height="34.2" fill="#ef5350"/>
<rect x="1226.06" y="434.4" width="4.60" height="28.7" fill="#ef5350"/>
<rect x="1233.69" y="460.4" width="1.30" height="68.7" fill="#ef5350"/>
<rect x="1232.04" y="463.1" width="4.60" height="64.7" fill="#ef5350"/>
<rect x="1239.68" y="523.6" width="1.30" height="42.1" fill="#ef5350"/>
<rect x="1238.03" y="526.6" width="4.60" height="29.6" fill="#ef5350"/>
<rect x="1245.66" y="514.2" width="1.30" height="46.4" fill="#26a69a"/>
<rect x="1244.01" y="552.4" width="4.60" height="3.7" fill="#26a69a"/>
<rect x="1251.65" y="544.4" width="1.30" height="37.5" fill="#ef5350"/>
<rect x="1250.00" y="552.4" width="4.60" height="11.2" fill="#ef5350"/>
<rect x="1257.63" y="546.2" width="1.30" height="31.2" fill="#26a69a"/>
<rect x="1255.98" y="550.7" width="4.60" height="13.0" fill="#26a69a"/>
<rect x="1263.62" y="538.7" width="1.30" height="34.2" fill="#ef5350"/>
<rect x="1261.97" y="549.2" width="4.60" height="10.0" fill="#ef5350"/>
<rect x="1268.41" y="529.2" width="1.30" height="30.0" fill="#26a69a"/>
<rect x="1266.76" y="549.2" width="4.60" height="10.0" fill="#26a69a"/>
<rect x="1274.39" y="536.9" width="1.30" height="28.7" fill="#ef5350"/>
<rect x="1272.74" y="549.2" width="4.60" height="9.5" fill="#ef5350"/>
<rect x="1280.38" y="539.9" width="1.30" height="36.2" fill="#ef5350"/>
<rect x="1278.73" y="558.2" width="4.60" height="3.7" fill="#ef5350"/>
<rect x="1286.36" y="554.9" width="1.30" height="50.7" fill="#ef5350"/>
<rect x="1284.71" y="560.6" width="4.60" height="44.9" fill="#ef5350"/>
<rect x="1292.35" y="571.6" width="1.30" height="36.2" fill="#26a69a"/>
<rect x="1290.70" y="583.1" width="4.60" height="12.2" fill="#26a69a"/>
<rect x="1298.33" y="574.4" width="1.30" height="22.5" fill="#ef5350"/>
<rect x="1296.68" y="583.1" width="4.60" height="7.5" fill="#ef5350"/>
<rect x="1304.32" y="573.1" width="1.30" height="22.2" fill="#ef5350"/>
<rect x="1302.67" y="589.4" width="4.60" height="4.2" fill="#ef5350"/>
<rect x="1310.30" y="553.2" width="1.30" height="40.4" fill="#26a69a"/>
<rect x="1308.65" y="581.9" width="4.60" height="11.7" fill="#26a69a"/>
<rect x="1316.29" y="543.2" width="1.30" height="40.0" fill="#26a69a"/>
<rect x="1314.64" y="556.7" width="4.60" height="26.5" fill="#26a69a"/>
<rect x="1322.27" y="544.4" width="1.30" height="27.2" fill="#ef5350"/>
<rect x="1320.62" y="552.4" width="4.60" height="13.0" fill="#ef5350"/>
<rect x="1328.26" y="541.2" width="1.30" height="46.7" fill="#26a69a"/>
<rect x="1326.61" y="547.4" width="4.60" height="18.0" fill="#26a69a"/>
<rect x="1334.24" y="543.2" width="1.30" height="25.0" fill="#ef5350"/>
<rect x="1332.59" y="547.4" width="4.60" height="20.7" fill="#ef5350"/>
<rect x="1340.23" y="504.1" width="1.30" height="65.8" fill="#26a69a"/>
<rect x="1338.58" y="512.8" width="4.60" height="55.8" fill="#26a69a"/>
<rect x="1346.21" y="496.6" width="1.30" height="38.7" fill="#26a69a"/>
<rect x="1344.56" y="501.6" width="4.60" height="12.5" fill="#26a69a"/>
<rect x="1352.20" y="499.8" width="1.30" height="30.5" fill="#ef5350"/>
<rect x="1350.55" y="509.1" width="4.60" height="18.7" fill="#ef5350"/>
<rect x="1358.18" y="490.3" width="1.30" height="40.0" fill="#26a69a"/>
<rect x="1356.53" y="499.1" width="4.60" height="28.7" fill="#26a69a"/>
<rect x="1362.97" y="498.1" width="1.30" height="53.6" fill="#ef5350"/>
<rect x="1361.32" y="499.1" width="4.60" height="33.3" fill="#ef5350"/>
<rect x="1368.96" y="520.6" width="1.30" height="23.9" fill="#ef5350"/>
<rect x="1367.31" y="531.2" width="4.60" height="11.7" fill="#ef5350"/>
<rect x="1374.94" y="523.7" width="1.30" height="34.2" fill="#ef5350"/>
<rect x="1373.29" y="541.7" width="4.60" height="8.2" fill="#ef5350"/>
<rect x="1380.93" y="544.4" width="1.30" height="54.2" fill="#ef5350"/>
<rect x="1379.28" y="554.9" width="4.60" height="35.7" fill="#ef5350"/>
<rect x="1386.91" y="571.6" width="1.30" height="57.7" fill="#26a69a"/>
<rect x="1385.26" y="580.6" width="4.60" height="10.0" fill="#26a69a"/>
<rect x="1392.90" y="511.1" width="1.30" height="70.5" fill="#26a69a"/>
<rect x="1391.25" y="513.1" width="4.60" height="68.6" fill="#26a69a"/>
<rect x="1398.88" y="472.4" width="1.30" height="56.7" fill="#26a69a"/>
<rect x="1397.23" y="484.9" width="4.60" height="29.2" fill="#26a69a"/>
<rect x="1404.87" y="477.4" width="1.30" height="25.0" fill="#ef5350"/>
<rect x="1403.22" y="484.9" width="4.60" height="15.0" fill="#ef5350"/>
<rect x="1410.85" y="460.4" width="1.30" height="59.9" fill="#26a69a"/>
<rect x="1409.20" y="475.6" width="4.60" height="32.2" fill="#26a69a"/>
<rect x="1416.84" y="462.4" width="1.30" height="30.0" fill="#26a69a"/>
<rect x="1415.19" y="472.3" width="4.60" height="4.7" fill="#26a69a"/>
<rect x="1422.82" y="464.9" width="1.30" height="23.7" fill="#ef5350"/>
<rect x="1421.17" y="472.4" width="4.60" height="11.7" fill="#ef5350"/>
<rect x="1428.81" y="468.1" width="1.30" height="32.2" fill="#26a69a"/>
<rect x="1427.16" y="481.6" width="4.60" height="2.9" fill="#26a69a"/>
<rect x="1434.79" y="412.4" width="1.30" height="69.9" fill="#26a69a"/>
<rect x="1433.14" y="415.7" width="4.60" height="66.7" fill="#26a69a"/>
<rect x="1440.78" y="412.4" width="1.30" height="41.7" fill="#ef5350"/>
<rect x="1439.13" y="418.7" width="4.60" height="26.2" fill="#ef5350"/>
<rect x="1446.76" y="403.2" width="1.30" height="54.2" fill="#26a69a"/>
<rect x="1445.11" y="414.2" width="4.60" height="30.7" fill="#26a69a"/>
<rect x="1451.55" y="410.0" width="1.30" height="26.2" fill="#ef5350"/>
<rect x="1449.90" y="414.2" width="4.60" height="15.7" fill="#ef5350"/>
<rect x="1457.54" y="390.0" width="1.30" height="49.2" fill="#26a69a"/>
<rect x="1455.89" y="406.7" width="4.60" height="23.2" fill="#26a69a"/>
<rect x="1463.52" y="381.2" width="1.30" height="48.7" fill="#ef5350"/>
<rect x="1461.87" y="406.7" width="4.60" height="20.7" fill="#ef5350"/>
<rect x="1469.51" y="418.7" width="1.30" height="29.5" fill="#ef5350"/>
<rect x="1467.86" y="427.4" width="4.60" height="16.2" fill="#ef5350"/>
<rect x="1475.49" y="412.4" width="1.30" height="35.7" fill="#26a69a"/>
<rect x="1473.84" y="419.9" width="4.60" height="23.7" fill="#26a69a"/>
<rect x="1481.48" y="415.7" width="1.30" height="62.2" fill="#ef5350"/>
<rect x="1479.83" y="419.9" width="4.60" height="57.9" fill="#ef5350"/>
<rect x="1487.46" y="462.4" width="1.30" height="30.7" fill="#ef5350"/>
<rect x="1485.81" y="476.9" width="4.60" height="12.2" fill="#ef5350"/>
<rect x="1493.45" y="479.9" width="1.30" height="25.5" fill="#ef5350"/>
<rect x="1491.80" y="487.4" width="4.60" height="13.4" fill="#ef5350"/>
<rect x="1499.43" y="475.6" width="1.30" height="27.2" fill="#ef5350"/>
<rect x="1497.78" y="497.9" width="4.60" height="3.1" fill="#ef5350"/>
<rect x="1505.42" y="478.6" width="1.30" height="53.7" fill="#26a69a"/>
<rect x="1503.77" y="493.3" width="4.60" height="7.7" fill="#26a69a"/>
<rect x="1511.40" y="484.9" width="1.30" height="38.7" fill="#ef5350"/>
<rect x="1509.75" y="493.3" width="4.60" height="4.4" fill="#ef5350"/>
<rect x="1517.39" y="448.7" width="1.30" height="57.9" fill="#26a69a"/>
<rect x="1515.74" y="483.1" width="4.60" height="14.2" fill="#26a69a"/>
<rect x="1523.37" y="471.1" width="1.30" height="32.5" fill="#26a69a"/>
<rect x="1521.72" y="481.6" width="4.60" height="2.9" fill="#26a69a"/>
<rect x="1529.36" y="480.1" width="1.30" height="19.1" fill="#26a69a"/>
<rect x="1527.71" y="492.0" width="4.60" height="2.8" fill="#26a69a"/>
</g>
<g>
<rect x="0" y="687" width="1755" height="2" fill="#4b4f5c"/>
<rect x="1667.4" y="0" width="1.7" height="721" fill="#4b4f5c"/>
<rect x="112.7" y="689" width="1.4" height="4.7" fill="#4b4f5c"/>
<rect x="237.2" y="689" width="1.4" height="4.7" fill="#4b4f5c"/>
<rect x="359.9" y="689" width="1.4" height="4.7" fill="#4b4f5c"/>
<rect x="490.7" y="689" width="1.4" height="4.7" fill="#4b4f5c"/>
<rect x="732.3" y="689" width="1.4" height="4.7" fill="#4b4f5c"/>
<rect x="862.8" y="689" width="1.4" height="4.7" fill="#4b4f5c"/>
<rect x="997.9" y="689" width="1.4" height="4.7" fill="#4b4f5c"/>
<rect x="1122.6" y="689" width="1.4" height="4.7" fill="#4b4f5c"/>
<rect x="1253.4" y="689" width="1.4" height="4.7" fill="#4b4f5c"/>
<rect x="1382.7" y="689" width="1.4" height="4.7" fill="#4b4f5c"/>
<rect x="1506.9" y="689" width="1.4" height="4.7" fill="#4b4f5c"/>
<rect x="1642.1" y="689" width="1.4" height="4.7" fill="#4b4f5c"/>
<rect x="1669" y="613.9" width="5.9" height="1.7" fill="#4b4f5c"/>
<rect x="1669" y="534.0" width="5.9" height="1.7" fill="#4b4f5c"/>
<rect x="1669" y="454.1" width="5.9" height="1.7" fill="#4b4f5c"/>
<rect x="1669" y="374.3" width="5.9" height="1.7" fill="#4b4f5c"/>
<rect x="1669" y="294.4" width="5.9" height="1.7" fill="#4b4f5c"/>
<rect x="1669" y="214.6" width="5.9" height="1.7" fill="#4b4f5c"/>
<rect x="1669" y="134.7" width="5.9" height="1.7" fill="#4b4f5c"/>
<rect x="1669" y="54.8" width="5.9" height="1.7" fill="#4b4f5c"/>
<text x="101.50" y="717.70" font-size="18.0" font-weight="normal" letter-spacing="-1.050" fill="#4a4e5c" stroke="#4a4e5c" stroke-width="0.35">LIs</text>
<text x="227.85" y="717.70" font-size="18.0" font-weight="normal" letter-spacing="-0.900" fill="#4a4e5c" stroke="#4a4e5c" stroke-width="0.35">30</text>
<text x="340.10" y="717.70" font-size="18.0" font-weight="bold" letter-spacing="0.233" fill="#4a4e5c">2019</text>
<text x="477.30" y="717.70" font-size="18.0" font-weight="normal" letter-spacing="0.175" fill="#4a4e5c" stroke="#4a4e5c" stroke-width="0.35">Lut</text>
<text x="717.30" y="717.70" font-size="18.0" font-weight="normal" letter-spacing="0.800" fill="#4a4e5c" stroke="#4a4e5c" stroke-width="0.35">Kwi</text>
<text x="846.90" y="717.70" font-size="18.0" font-weight="normal" letter-spacing="1.050" fill="#4a4e5c" stroke="#4a4e5c" stroke-width="0.35">Maj</text>
<text x="983.20" y="717.70" font-size="18.0" font-weight="normal" letter-spacing="-1.025" fill="#4a4e5c" stroke="#4a4e5c" stroke-width="0.35">Cze</text>
<text x="1117.60" y="717.70" font-size="18.0" font-weight="normal" letter-spacing="0.000" fill="#4a4e5c" stroke="#4a4e5c" stroke-width="0.35">2</text>
<text x="1241.45" y="717.70" font-size="18.0" font-weight="normal" letter-spacing="-0.900" fill="#4a4e5c" stroke="#4a4e5c" stroke-width="0.35">Sie</text>
<text x="1367.85" y="717.70" font-size="18.0" font-weight="normal" letter-spacing="-0.400" fill="#4a4e5c" stroke="#4a4e5c" stroke-width="0.35">Wrz</text>
<text x="1493.00" y="717.70" font-size="18.0" font-weight="normal" letter-spacing="-1.450" fill="#4a4e5c" stroke="#4a4e5c" stroke-width="0.35">Paź</text>
<text x="1631.10" y="717.70" font-size="18.0" font-weight="normal" letter-spacing="-1.075" fill="#4a4e5c" stroke="#4a4e5c" stroke-width="0.35">LIs</text>
<text x="1680.95" y="621.00" font-size="17.8" font-weight="normal" letter-spacing="0.067" fill="#4a4e5c" stroke="#4a4e5c" stroke-width="0.35">1.20000</text>
<text x="1680.95" y="541.14" font-size="17.8" font-weight="normal" letter-spacing="0.067" fill="#4a4e5c" stroke="#4a4e5c" stroke-width="0.35">1.22000</text>
<text x="1680.95" y="461.28" font-size="17.8" font-weight="normal" letter-spacing="0.067" fill="#4a4e5c" stroke="#4a4e5c" stroke-width="0.35">1.24000</text>
<text x="1680.95" y="381.42" font-size="17.8" font-weight="normal" letter-spacing="0.067" fill="#4a4e5c" stroke="#4a4e5c" stroke-width="0.35">1.26000</text>
<text x="1680.95" y="301.56" font-size="17.8" font-weight="normal" letter-spacing="0.067" fill="#4a4e5c" stroke="#4a4e5c" stroke-width="0.35">1.28000</text>
<text x="1680.95" y="221.70" font-size="17.8" font-weight="normal" letter-spacing="0.067" fill="#4a4e5c" stroke="#4a4e5c" stroke-width="0.35">1.30000</text>
<text x="1680.95" y="141.84" font-size="17.8" font-weight="normal" letter-spacing="0.067" fill="#4a4e5c" stroke="#4a4e5c" stroke-width="0.35">1.32000</text>
</g>
<g>
<rect x="1667.4" y="49.3" width="87.6" height="27.0" fill="#0e5296"/>
<rect x="1667.4" y="62.6" width="6.3" height="1.3" fill="#fff" fill-opacity="0.92"/>
<rect x="1667.4" y="130.5" width="87.6" height="27.0" fill="#0e5296"/>
<rect x="1667.4" y="143.8" width="6.3" height="1.3" fill="#fff" fill-opacity="0.92"/>
<rect x="1667.4" y="287.7" width="87.6" height="27.0" fill="#0e5296"/>
<rect x="1667.4" y="301.0" width="6.3" height="1.3" fill="#fff" fill-opacity="0.92"/>
<rect x="1667.4" y="451.4" width="87.6" height="27.0" fill="#0e5296"/>
<rect x="1667.4" y="464.7" width="6.3" height="1.3" fill="#fff" fill-opacity="0.92"/>
<rect x="1667.4" y="518.9" width="87.6" height="27.0" fill="#0e5296"/>
<rect x="1667.4" y="532.1" width="6.3" height="1.3" fill="#fff" fill-opacity="0.92"/>
<rect x="1667.4" y="615.1" width="87.6" height="27.0" fill="#0e5296"/>
<rect x="1667.4" y="628.4" width="6.3" height="1.3" fill="#fff" fill-opacity="0.92"/>
<rect x="1667.4" y="478.6" width="87.6" height="27.0" fill="#26a69a"/>
<rect x="1667.4" y="491.9" width="6.3" height="1.3" fill="#fff" fill-opacity="0.92"/>
</g>
<g>
<g stroke="#131722" fill="none" stroke-width="1.6">
<circle cx="1712.0" cy="708.9" r="7.4"/>
<line x1="1720.20" y1="708.90" x2="1722.80" y2="708.90" stroke-width="1.8"/>
<line x1="1717.80" y1="714.70" x2="1719.64" y2="716.54" stroke-width="1.8"/>
<line x1="1712.00" y1="717.10" x2="1712.00" y2="719.70" stroke-width="1.8"/>
<line x1="1706.20" y1="714.70" x2="1704.36" y2="716.54" stroke-width="1.8"/>
<line x1="1703.80" y1="708.90" x2="1701.20" y2="708.90" stroke-width="1.8"/>
<line x1="1706.20" y1="703.10" x2="1704.36" y2="701.26" stroke-width="1.8"/>
<line x1="1712.00" y1="700.70" x2="1712.00" y2="698.10" stroke-width="1.8"/>
<line x1="1717.80" y1="703.10" x2="1719.64" y2="701.26" stroke-width="1.8"/>
</g>
<polygon points="20.1,11.2 38,11.2 32.1,21 38,30.8 20.1,30.8" fill="#ff5252"/>
<polyline points="437.0,19.2 442.0,23.9 447.0,19.2" fill="none" stroke="#131722" stroke-width="2"/>
<circle cx="319.1" cy="21.9" r="2.1" fill="#c9cbd6"/>
<circle cx="364.7" cy="21.9" r="2.1" fill="#c9cbd6"/>
<text x="1681.20" y="69.10" font-size="17.8" font-weight="bold" letter-spacing="-0.067" fill="#fff" stroke="#0e5296" stroke-width="0.18">1.33814</text>
<text x="1681.20" y="150.30" font-size="17.8" font-weight="bold" letter-spacing="0.017" fill="#fff" stroke="#0e5296" stroke-width="0.18">1.31781</text>
<text x="1681.20" y="307.50" font-size="17.8" font-weight="bold" letter-spacing="0.017" fill="#fff" stroke="#0e5296" stroke-width="0.18">1.27828</text>
<text x="1681.20" y="471.20" font-size="17.8" font-weight="bold" letter-spacing="0.017" fill="#fff" stroke="#0e5296" stroke-width="0.18">1.23725</text>
<text x="1681.20" y="538.70" font-size="17.8" font-weight="bold" letter-spacing="-0.067" fill="#fff" stroke="#0e5296" stroke-width="0.18">1.22044</text>
<text x="1681.20" y="634.90" font-size="17.8" font-weight="bold" letter-spacing="0.017" fill="#fff" stroke="#0e5296" stroke-width="0.18">1.19622</text>
<text x="1681.20" y="498.40" font-size="17.8" font-weight="bold" letter-spacing="0.058" fill="#fff" stroke="#26a69a" stroke-width="0.18">1.23057</text>
<text x="43.15" y="29.75" font-size="22.8" font-weight="normal" letter-spacing="0.704" fill="#4a4e5c" stroke="#4a4e5c" stroke-width="0.35">Funt Brytyjski/Dolar USA</text>
<text x="328.75" y="29.75" font-size="22.8" font-weight="normal" letter-spacing="-2.100" fill="#4a4e5c" stroke="#4a4e5c" stroke-width="0.35">1D</text>
<text x="373.45" y="29.75" font-size="22.8" font-weight="normal" letter-spacing="-1.900" fill="#4a4e5c" stroke="#4a4e5c" stroke-width="0.35">FXCM</text>
<text x="480.30" y="29.75" font-size="18.8" font-weight="normal" letter-spacing="0.750" fill="#4a4e5c" stroke="#4a4e5c" stroke-width="0.35">Otwarcie</text>
<text x="561.40" y="29.75" font-size="18.8" font-weight="normal" letter-spacing="0.058" fill="#26a69a" stroke="#26a69a" stroke-width="0.35">1.23004</text>
<text x="643.30" y="29.75" font-size="18.8" font-weight="normal" letter-spacing="0.186" fill="#4a4e5c" stroke="#4a4e5c" stroke-width="0.35">Maksimum</text>
<text x="736.50" y="29.75" font-size="18.8" font-weight="normal" letter-spacing="0.225" fill="#26a69a" stroke="#26a69a" stroke-width="0.35">1.23367</text>
<text x="818.80" y="29.75" font-size="18.8" font-weight="normal" letter-spacing="0.758" fill="#4a4e5c" stroke="#4a4e5c" stroke-width="0.35">Minimum</text>
<text x="900.80" y="29.75" font-size="18.8" font-weight="normal" letter-spacing="-0.133" fill="#26a69a" stroke="#26a69a" stroke-width="0.35">1.22871</text>
<text x="983.40" y="29.75" font-size="18.8" font-weight="normal" letter-spacing="0.000" fill="#4a4e5c" stroke="#4a4e5c" stroke-width="0.35">C</text>
<text x="997.90" y="29.75" font-size="18.8" font-weight="normal" letter-spacing="0.033" fill="#26a69a" stroke="#26a69a" stroke-width="0.35">1.23057</text>
<text x="1082.10" y="29.75" font-size="18.8" font-weight="normal" letter-spacing="0.000" fill="#26a69a" stroke="#26a69a" stroke-width="0.35">−0.00248</text>
<text x="1166.65" y="29.75" font-size="18.8" font-weight="normal" letter-spacing="-0.300" fill="#26a69a" stroke="#26a69a" stroke-width="0.35">(−0.20%)</text>
</g>
<g>
</g>
</svg>
</body></html>
